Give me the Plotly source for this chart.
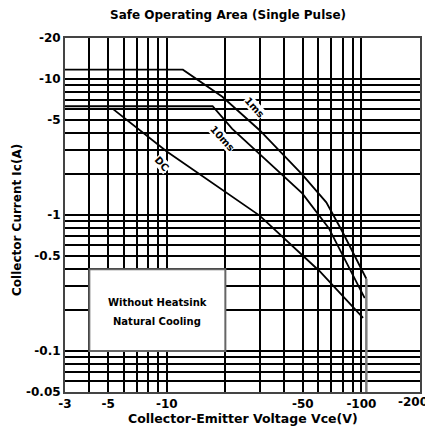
import math
import plotly.graph_objects as go

# Curves (Vce magnitude in V, Ic magnitude in A)
v_1ms = [3, 12.1, 19.3, 30, 49.7, 66, 80, 106]
i_1ms = [11.7, 11.7, 7.4, 4.2, 1.98, 1.24, 0.75, 0.34]

v_10ms = [3, 17.2, 21.7, 49.7, 68, 104]
i_10ms = [6.3, 6.3, 4.3, 1.44, 0.8, 0.245]

v_dc = [3, 5.3, 10, 30, 61, 102]
i_dc = [6.0, 6.0, 2.93, 0.99, 0.386, 0.175]

v_limit = [106, 106]
i_limit = [0.34, 0.05]

# Axes ticks
x_tickvals = [3, 4, 5, 6, 7, 8, 9, 10, 20, 30, 40, 50, 60, 70, 80, 90, 100, 200]
x_labeled = {3: "-3", 5: "-5", 10: "-10", 50: "-50", 100: "-100"}
x_edge_label_val = 200
x_edge_label = "-200"
y_tickvals = [0.05, 0.06, 0.07, 0.08, 0.09, 0.1, 0.2, 0.3, 0.4, 0.5, 0.6, 0.7, 0.8, 0.9,
              1, 2, 3, 4, 5, 6, 7, 8, 9, 10, 20]
y_labeled = {0.05: "-0.05", 0.1: "-0.1", 0.5: "-0.5", 1: "-1", 5: "-5", 10: "-10", 20: "-20"}

curve_labels = ["1ms", "10ms", "DC"]
label_pos_v = [28.3, 19.3, 9.4]
label_pos_i = [6.2, 3.64, 2.39]

title_text = "Safe Operating Area (Single Pulse)"
x_title = "Collector-Emitter Voltage Vce(V)"
y_title = "Collector Current Ic(A)"
inset_lines = ["Without Heatsink", "Natural Cooling"]
inset_line_i = [0.229, 0.166]
inset_center_v = 8.94

FONT = "DejaVu Sans"
TICKFONT = dict(family=FONT, size=12, color="black", weight="bold")

fig = go.Figure()
line_style = dict(color="black", width=1.8)
for vx, iy in [(v_1ms, i_1ms), (v_10ms, i_10ms), (v_dc, i_dc)]:
    fig.add_trace(go.Scatter(x=vx, y=iy, mode="lines", line=line_style,
                             showlegend=False, hoverinfo="skip"))
fig.add_trace(go.Scatter(x=v_limit, y=i_limit, mode="lines",
                         line=dict(color="#808080", width=2.5),
                         showlegend=False, hoverinfo="skip"))

fig.update_xaxes(
    type="log", range=[math.log10(3), math.log10(200)],
    tickvals=x_tickvals,
    ticktext=[x_labeled.get(v, "") for v in x_tickvals],
    showgrid=True, gridcolor="black", gridwidth=1.7,
    showline=True, linecolor="#444", linewidth=2, mirror=True,
    ticks="", zeroline=False, automargin=False,
    tickfont=TICKFONT,
)
fig.update_yaxes(
    type="log", range=[math.log10(0.05), math.log10(20)],
    tickvals=y_tickvals,
    ticktext=[y_labeled.get(v, "") for v in y_tickvals],
    showgrid=True, gridcolor="black", gridwidth=1.7,
    showline=True, linecolor="#444", linewidth=2, mirror=True,
    ticks="", zeroline=False, automargin=False,
    tickfont=TICKFONT,
)

# right-most x tick label, nudged inward so it stays inside the page
fig.add_annotation(x=math.log10(x_edge_label_val), y=0, xref="x", yref="paper",
                   text=x_edge_label, showarrow=False, yanchor="top",
                   xanchor="center", xshift=-7, yshift=-1, font=TICKFONT)

# Inset box
fig.add_shape(type="rect", xref="x", yref="y", x0=4, x1=20, y0=0.1, y1=0.4,
              fillcolor="white", line=dict(color="#666", width=2), layer="above")
for txt, iy in zip(inset_lines, inset_line_i):
    fig.add_annotation(x=math.log10(inset_center_v), y=math.log10(iy), xref="x", yref="y",
                       text=txt, showarrow=False,
                       font=dict(family=FONT, size=10, color="black", weight="bold"))

# Curve labels
for txt, vx, iy in zip(curve_labels, label_pos_v, label_pos_i):
    fig.add_annotation(x=math.log10(vx), y=math.log10(iy), xref="x", yref="y",
                       text=txt, showarrow=False, textangle=48, bgcolor="white",
                       borderpad=0,
                       font=dict(family=FONT, size=10, color="black", weight="bold"))

# Titles
fig.add_annotation(x=0.46, y=1.064, xref="paper", yref="paper", text=title_text,
                   showarrow=False, yanchor="middle",
                   font=dict(family=FONT, size=12, color="black", weight="bold"))
fig.add_annotation(x=0.5, y=-0.075, xref="paper", yref="paper", text=x_title,
                   showarrow=False, yanchor="middle",
                   font=dict(family=FONT, size=12.5, color="black", weight="bold"))
fig.add_annotation(x=-0.135, y=0.486, xref="paper", yref="paper", text=y_title,
                   showarrow=False, textangle=-90, xanchor="center", yanchor="middle",
                   font=dict(family=FONT, size=12, color="black", weight="bold"))

fig.update_layout(
    width=425, height=425,
    margin=dict(l=57, r=13, t=30, b=41),
    paper_bgcolor="white", plot_bgcolor="white",
    showlegend=False,
)

fig.write_html("out.html")
